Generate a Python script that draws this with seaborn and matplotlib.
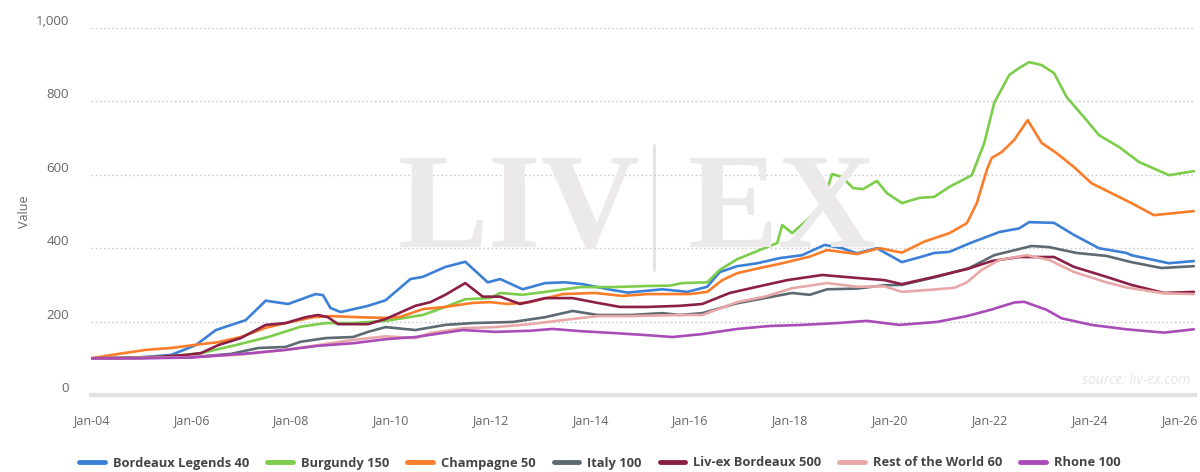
import numpy as np
import pandas as pd
import matplotlib
matplotlib.use("Agg")
import matplotlib.pyplot as plt
import matplotlib.dates as mdates
import matplotlib.transforms as mtransforms
from matplotlib.ticker import FuncFormatter
from matplotlib.lines import Line2D
import seaborn as sns

# ---------------- data (decimal year, index value) ----------------
series_names = ["Bordeaux Legends 40", "Burgundy 150", "Champagne 50", "Italy 100",
                "Liv-ex Bordeaux 500", "Rest of the World 60", "Rhone 100"]

bl40_t = [2004.0, 2004.5, 2005.0, 2005.6, 2006.1, 2006.5, 2007.1, 2007.5, 2007.95, 2008.5, 2008.65,
          2008.8, 2009.0, 2009.2, 2009.55, 2009.9, 2010.4, 2010.65, 2011.1, 2011.5, 2011.95, 2012.2,
          2012.65, 2013.1, 2013.5, 2013.85, 2014.45, 2014.75, 2015.45, 2015.95, 2016.35, 2016.6,
          2016.95, 2017.35, 2017.8, 2018.25, 2018.7, 2019.05, 2019.35, 2019.75, 2020.25, 2020.65,
          2020.9, 2021.2, 2021.6, 2022.2, 2022.6, 2022.8, 2023.3, 2023.7, 2024.2, 2024.75, 2024.85,
          2025.6, 2026.1]
bl40_v = [100, 101, 103, 109, 136, 177, 204, 257, 248, 275, 272,
          237, 226, 232, 243, 258, 316, 322, 349, 363, 307, 316,
          288, 305, 307, 302, 286, 279, 288, 281, 295, 335,
          351, 359, 373, 381, 409, 400, 386, 400, 362, 377,
          387, 390, 413, 444, 454, 471, 469, 436, 400, 387, 381,
          359, 365]

burg_t = [2004.0, 2005.0, 2005.6, 2006.2, 2006.9, 2007.55, 2008.2, 2008.7, 2009.25, 2009.9, 2010.65,
          2011.1, 2011.5, 2012.0, 2012.2, 2012.65, 2013.1, 2013.8, 2014.45, 2015.15, 2015.6, 2015.85,
          2016.35, 2016.6, 2016.95, 2017.4, 2017.75, 2017.85, 2018.05, 2018.35, 2018.6, 2018.75,
          2018.85, 2019.05, 2019.27, 2019.47, 2019.75, 2019.95, 2020.25, 2020.6, 2020.9, 2021.2,
          2021.65, 2021.9, 2022.1, 2022.4, 2022.6, 2022.8, 2023.05, 2023.3, 2023.55, 2023.95,
          2024.2, 2024.6, 2025.0, 2025.6, 2026.1]
burg_v = [100, 102, 106, 114, 136, 158, 186, 196, 196, 202, 218,
          240, 261, 264, 278, 273, 281, 294, 294, 297, 298, 305,
          307, 341, 370, 395, 414, 463, 441, 477, 512, 559,
          602, 594, 564, 561, 583, 550, 523, 537, 540, 567,
          599, 687, 796, 872, 891, 907, 899, 877, 812, 749,
          708, 676, 635, 599, 610]

champ_t = [2004.0, 2004.55, 2005.1, 2005.6, 2006.05, 2006.55, 2007.0, 2007.5, 2008.0, 2008.45, 2008.8,
           2009.35, 2009.9, 2010.2, 2010.65, 2011.1, 2011.65, 2012.0, 2012.35, 2012.8, 2013.45,
           2014.1, 2014.65, 2015.15, 2016.0, 2016.35, 2016.65, 2016.95, 2017.4, 2017.85, 2018.4,
           2018.75, 2019.35, 2019.8, 2020.25, 2020.7, 2021.2, 2021.55, 2021.75, 2021.95, 2022.05,
           2022.25, 2022.5, 2022.77, 2023.05, 2023.35, 2023.7, 2024.05, 2024.45, 2024.85, 2025.3,
           2026.1]
champ_v = [100, 112, 123, 128, 136, 144, 158, 183, 199, 212, 215,
           212, 210, 213, 234, 240, 251, 253, 248, 253, 275,
           278, 270, 275, 275, 281, 313, 332, 346, 359, 377,
           395, 384, 400, 388, 418, 441, 468, 523, 613, 646,
           662, 695, 749, 687, 659, 621, 577, 550, 523, 490,
           501]

italy_t = [2004.0, 2005.0, 2006.0, 2006.8, 2007.35, 2007.9, 2008.2, 2008.7, 2009.25, 2009.55, 2009.9,
           2010.5, 2011.1, 2011.65, 2012.45, 2013.1, 2013.65, 2014.15, 2014.8, 2015.45, 2015.8,
           2016.25, 2016.95, 2017.5, 2018.05, 2018.4, 2018.75, 2019.35, 2019.9, 2020.25, 2020.95,
           2021.6, 2022.1, 2022.85, 2023.2, 2023.75, 2024.35, 2024.85, 2025.45, 2026.1]
italy_v = [100, 101, 103, 112, 128, 131, 145, 155, 158, 172, 185,
           177, 191, 196, 199, 212, 229, 218, 218, 223, 218,
           223, 250, 264, 278, 273, 288, 290, 299, 300, 322,
           346, 381, 406, 403, 387, 379, 362, 346, 351]

lvb_t = [2004.0, 2005.0, 2005.9, 2006.2, 2006.55, 2007.0, 2007.5, 2007.9, 2008.3, 2008.55, 2008.75,
         2008.95, 2009.55, 2009.9, 2010.5, 2010.8, 2011.1, 2011.5, 2011.85, 2012.2, 2012.6,
         2013.1, 2013.65, 2014.15, 2014.6, 2015.15, 2015.8, 2016.25, 2016.8, 2017.35, 2017.95,
         2018.65, 2019.35, 2019.9, 2020.25, 2020.9, 2021.55, 2022.05, 2022.6, 2023.3, 2023.7,
         2024.35, 2024.85, 2025.5, 2026.1]
lvb_v = [100, 101, 109, 114, 136, 155, 191, 196, 212, 218, 212,
         193, 193, 207, 243, 253, 273, 305, 268, 268, 248,
         264, 264, 251, 240, 240, 243, 248, 278, 295, 313,
         327, 319, 313, 302, 322, 343, 365, 376, 376, 349,
         322, 300, 278, 281]

row_t = [2004.0, 2005.0, 2006.0, 2007.0, 2007.9, 2008.55, 2009.25, 2009.9, 2010.5, 2010.8, 2011.45,
         2012.1, 2012.8, 2013.45, 2014.15, 2014.8, 2015.8, 2016.25, 2016.95, 2017.5, 2018.05,
         2018.75, 2019.35, 2019.9, 2020.25, 2020.95, 2021.3, 2021.55, 2021.85, 2022.2, 2022.75,
         2023.2, 2023.7, 2024.35, 2024.75, 2025.5, 2026.1]
row_v = [100, 101, 103, 110, 123, 136, 150, 160, 155, 169, 182,
         185, 193, 204, 215, 215, 218, 218, 253, 268, 291,
         305, 295, 296, 281, 288, 292, 307, 341, 368, 381,
         368, 335, 307, 293, 277, 275]

rhone_t = [2004.0, 2005.0, 2006.0, 2007.2, 2007.9, 2008.55, 2009.25, 2009.9, 2010.5, 2011.45, 2012.1,
           2012.8, 2013.25, 2013.8, 2014.45, 2015.15, 2015.65, 2016.25, 2016.95, 2017.6, 2018.25,
           2018.95, 2019.55, 2020.2, 2020.95, 2021.55, 2022.05, 2022.5, 2022.7, 2023.15, 2023.45,
           2024.05, 2024.75, 2025.5, 2026.1]
rhone_v = [100, 100, 102, 114, 123, 134, 141, 152, 158, 177, 172,
           175, 180, 174, 169, 163, 158, 166, 180, 188, 191,
           196, 202, 191, 199, 215, 233, 252, 254, 232, 209,
           191, 179, 170, 179]

colors = ["#3b80d6", "#7ccd4a", "#fb7d2a", "#5d6a72", "#8c1f47", "#e9a8a8", "#a94cb8"]

# ---------------- build long-form table ----------------
def to_date(y):
    yi = int(np.floor(y))
    return pd.Timestamp(yi, 1, 1) + pd.Timedelta(days=(y - yi) * 365.25)

all_t = [bl40_t, burg_t, champ_t, italy_t, lvb_t, row_t, rhone_t]
all_v = [bl40_v, burg_v, champ_v, italy_v, lvb_v, row_v, rhone_v]
frames = []
for name, ts, vs in zip(series_names, all_t, all_v):
    frames.append(pd.DataFrame({"date": [to_date(t) for t in ts], "value": vs, "series": name}))
df = pd.concat(frames, ignore_index=True)

# ---------------- figure ----------------
sns.set_theme(style="white")
plt.rcParams["font.family"] = ["Open Sans", "DejaVu Sans"]

fig = plt.figure(figsize=(12, 4.72), dpi=100)
ax = fig.add_axes([91 / 1200, 77 / 472, 1104 / 1200, 367 / 472])
ax.patch.set_alpha(0)

# watermark
wm_color = "#ebe9e9"
fig.text(0.432, 0.545, "LIV", fontsize=98, fontweight="bold", family="Liberation Serif",
         color=wm_color, ha="center", va="center", zorder=0)
fig.text(0.652, 0.545, "EX", fontsize=98, fontweight="bold", family="Liberation Serif",
         color=wm_color, ha="center", va="center", zorder=0)
fig.add_artist(Line2D([0.545, 0.545], [0.428, 0.693], color="#e4e4e4", lw=2, zorder=0))

sns.lineplot(data=df, x="date", y="value", hue="series", hue_order=series_names,
             palette=dict(zip(series_names, colors)), linewidth=1.9, ax=ax, legend=False,
             estimator=None, sort=True)

ax.set_ylim(0, 1000)
ax.set_xlim(pd.Timestamp(2004, 1, 1), pd.Timestamp(2026, 2, 15))
ax.set_yticks([0, 200, 400, 600, 800, 1000])
ax.yaxis.set_major_formatter(FuncFormatter(lambda v, p: f"{int(v):,}"))
ax.xaxis.set_major_locator(mdates.YearLocator(2, month=1, day=1))
ax.xaxis.set_major_formatter(mdates.DateFormatter("%b-%y"))

for v in [200, 400, 600, 800, 1000]:
    ax.axhline(v, color="#c8cbcf", lw=1.0, ls=(0, (1.2, 1.8)), zorder=0.5)

for s in ["top", "right", "left"]:
    ax.spines[s].set_visible(False)
ax.spines["bottom"].set_color("#e2e2e2")
ax.spines["bottom"].set_linewidth(3)

ax.tick_params(axis="x", direction="out", length=8, width=1.3, color="#8a8a8a",
               labelsize=9, labelcolor="#666666", pad=6)
ax.tick_params(axis="y", length=0, labelsize=9.5, labelcolor="#666666", pad=16)
for lab in ax.get_yticklabels():
    lab.set_va("bottom")

fig.canvas.draw()
xlabs = ax.get_xticklabels()
if xlabs:
    xlabs[-1].set_transform(xlabs[-1].get_transform() +
                            mtransforms.ScaledTranslation(-10 / 100, 0, fig.dpi_scale_trans))

ax.set_xlabel("")
ax.set_ylabel("Value", fontsize=9, color="#666666")
ax.yaxis.set_label_coords(-60 / 1104, 0.5)

fig.text(1190 / 1200, 1 - 381 / 472, "source: liv-ex.com", fontsize=10, style="italic",
         color="#e6e6e6", ha="right", va="center")

handles = [Line2D([], [], color=c, lw=3.5) for c in colors]
leg = fig.legend(handles, series_names, loc="center", bbox_to_anchor=(0.5, 1 - 463 / 472),
                 ncol=7, frameon=False, handlelength=2.0, handletextpad=0.6,
                 columnspacing=1.4, prop={"size": 9.3, "weight": "bold"})
for t in leg.get_texts():
    t.set_color("#444444")

fig.savefig("out.png", dpi=100)
